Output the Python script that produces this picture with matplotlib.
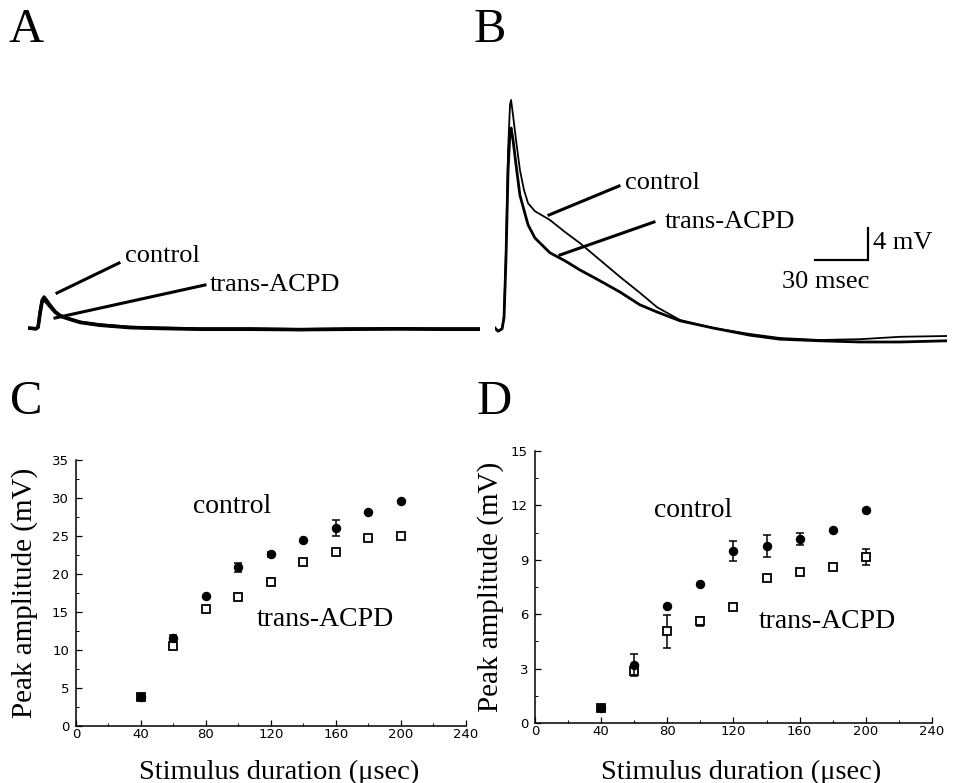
import numpy as np
import matplotlib
matplotlib.use("Agg")
import matplotlib.pyplot as plt
from matplotlib.lines import Line2D
from matplotlib.ticker import MultipleLocator

# ---------------- data ----------------
# Panel A traces (time in ms, voltage in mV relative to baseline)
a_time = [0, 4.5, 5.7, 6.8, 7.9, 9.1, 10.2, 12.5, 15.3, 18.1, 22.1, 29.4, 40.7, 57.7,
          74.7, 97.3, 125.6, 153.9, 182.2, 210.5, 233.2, 255.8]
a_control = [0, -0.1, 0.1, 2.0, 3.5, 3.9, 3.6, 2.9, 2.1, 1.6, 1.25, 0.75, 0.4, 0.1,
             0, -0.1, -0.1, -0.2, -0.1, -0.1, -0.1, -0.1]
a_trans = [0, -0.1, 0.1, 1.8, 3.2, 3.5, 3.3, 2.7, 2.0, 1.5, 1.2, 0.7, 0.35, 0.05,
           -0.05, -0.15, -0.15, -0.2, -0.15, -0.1, -0.15, -0.15]

# Panel B traces
b_time = [0, 1.7, 4.0, 5.1, 6.2, 7.4, 8.5, 9.1, 10.2, 11.9, 14.1, 16.4, 18.7, 22.6,
          31.1, 39.6, 48.1, 59.4, 70.7, 82.0, 91.7, 104.7, 123.4, 144.3, 161.3,
          183.9, 206.6, 229.2, 255.8]
b_control = [0, -0.4, -0.1, 1.6, 9.75, 22.25, 27.9, 28.5, 26.6, 23.5, 19.75, 17.25,
             15.6, 14.6, 13.5, 12.0, 10.6, 8.5, 6.4, 4.4, 2.6, 1.0, 0, -0.75, -1.25,
             -1.5, -1.4, -1.1, -1.0]
b_trans = [0, -0.4, -0.1, 1.25, 8.5, 19.75, 24.5, 25.0, 23.5, 20.4, 16.6, 14.75,
           12.9, 11.25, 9.4, 8.4, 7.25, 5.9, 4.5, 2.9, 2.0, 0.9, 0, -0.9, -1.4,
           -1.6, -1.75, -1.75, -1.6]

# Panels C and D: peak amplitude vs stimulus duration
duration = [40, 60, 80, 100, 120, 140, 160, 180, 200]

c_control = [3.8, 11.6, 17.1, 20.9, 22.6, 24.5, 26.1, 28.1, 29.6]
c_control_err = [0.3, 0.4, 0, 0.6, 0.3, 0, 1.05, 0, 0]
c_trans = [3.8, 10.5, 15.4, 17.0, 19.0, 21.6, 22.9, 24.8, 25.0]
c_trans_err = [0, 0, 0, 0, 0.5, 0, 0, 0, 0]

d_control = [0.8, 3.2, 6.45, 7.65, 9.5, 9.75, 10.15, 10.65, 11.75]
d_control_err = [0, 0.6, 0, 0, 0.55, 0.6, 0.35, 0, 0]
d_trans = [0.8, 2.85, 5.05, 5.6, 6.4, 8.0, 8.3, 8.6, 9.15]
d_trans_err = [0, 0, 0.9, 0.25, 0.12, 0, 0, 0, 0.42]

x_ticks = [0, 40, 80, 120, 160, 200, 240]
c_yticks = [0, 5, 10, 15, 20, 25, 30, 35]
d_yticks = [0, 3, 6, 9, 12, 15]

# ---------------- figure ----------------
W, H = 954, 783
fig = plt.figure(figsize=(W / 100, H / 100), dpi=100)
SERIF = ["Liberation Serif", "DejaVu Serif"]
TICKFONT = "DejaVu Sans"


def fx(x):
    return x / W


def fy(y):
    return 1 - y / H


def rect(l, t, r, b):
    return [fx(l), fy(b), fx(r) - fx(l), fy(t) - fy(b)]


# ---- trace panels ----
axA = fig.add_axes(rect(28, 80, 480, 360))
axB = fig.add_axes(rect(495, 80, 947, 360))
for ax in (axA, axB):
    ax.set_xlim(0, 255.8)
    ax.set_ylim(-4, 31)
    ax.axis("off")

axA.plot(a_time, a_trans, color="black", lw=2.6, solid_joinstyle="round")
axA.plot(a_time, a_control, color="black", lw=2.2, solid_joinstyle="round")
axB.plot(b_time, b_trans, color="black", lw=2.0, solid_joinstyle="round")
axB.plot(b_time, b_control, color="black", lw=1.3, solid_joinstyle="round")

# scale bar in panel B (30 ms, 4 mV)
sb_t, sb_v = 211, 8.5
axB.plot([sb_t - 30, sb_t, sb_t], [sb_v, sb_v, sb_v + 4], color="black", lw=1.6,
         solid_joinstyle="miter")
fig.text(fx(873), fy(243), "4 mV", family=SERIF, fontsize=19, va="center", ha="left")
fig.text(fx(782), fy(282), "30 msec", family=SERIF, fontsize=19, va="center", ha="left")


def pointer(x0, y0, x1, y1, lw=2.2):
    fig.add_artist(Line2D([fx(x0), fx(x1)], [fy(y0), fy(y1)], color="black", lw=lw,
                          transform=fig.transFigure))


# annotations A
pointer(57, 293, 119, 263)
fig.text(fx(125), fy(256), "control", family=SERIF, fontsize=19, va="center", ha="left")
pointer(55, 318, 205, 285)
fig.text(fx(210), fy(285), "trans-ACPD", family=SERIF, fontsize=19, va="center", ha="left")
# annotations B
pointer(549, 215, 619, 186)
fig.text(fx(625), fy(183), "control", family=SERIF, fontsize=19, va="center", ha="left")
pointer(560, 255, 654, 222)
fig.text(fx(665), fy(222), "trans-ACPD", family=SERIF, fontsize=19, va="center", ha="left")

# panel letters
for lbl, x, y in [("A", 9, 30), ("B", 474, 30), ("C", 10, 402), ("D", 477, 402)]:
    fig.text(fx(x), fy(y), lbl, family=SERIF, fontsize=35, va="center", ha="left")

# ---- scatter panels ----
axC = fig.add_axes(rect(76, 460, 466, 726))
axD = fig.add_axes(rect(535, 451, 932, 723))


def scatter_panel(ax, ctrl, ctrl_err, trans, trans_err, yticks, ymax, yminor,
                  ctext, ttext, ylab_x, xlab_y):
    x = np.array(duration, dtype=float)
    ctrl = np.array(ctrl, dtype=float)
    trans = np.array(trans, dtype=float)
    ce = np.array(ctrl_err, dtype=float)
    te = np.array(trans_err, dtype=float)
    m = te > 0
    ax.errorbar(x[m], trans[m], yerr=te[m], fmt="none", ecolor="black",
                elinewidth=1.1, capsize=2.6, capthick=1.1, zorder=2)
    ax.plot(x, trans, "s", ms=5.2, mfc="white", mec="black", mew=1.3, zorder=3)
    m = ce > 0
    ax.errorbar(x[m], ctrl[m], yerr=ce[m], fmt="none", ecolor="black",
                elinewidth=1.1, capsize=2.6, capthick=1.1, zorder=4)
    ax.plot(x, ctrl, "o", ms=5.8, mfc="black", mec="black", zorder=5)

    ax.set_xlim(0, 240)
    ax.set_ylim(0, ymax)
    ax.set_xticks(x_ticks)
    ax.set_yticks(yticks)
    ax.xaxis.set_minor_locator(MultipleLocator(20))
    ax.yaxis.set_minor_locator(MultipleLocator(yminor))
    ax.spines["top"].set_visible(False)
    ax.spines["right"].set_visible(False)
    for s in ("left", "bottom"):
        ax.spines[s].set_linewidth(1.1)
        ax.spines[s].set_clip_on(False)
    ax.tick_params(which="major", direction="in", length=4, width=0.9,
                   labelsize=9.5, colors="black")
    ax.tick_params(which="minor", direction="in", length=2, width=0.7)
    ax.tick_params(axis="x", pad=1.5)
    ax.tick_params(axis="y", pad=5)
    for t in ax.get_xticklabels() + ax.get_yticklabels():
        t.set_family(TICKFONT)
    ax.set_ylabel("Peak amplitude (mV)", family=SERIF, fontsize=21)
    ax.yaxis.set_label_coords(ylab_x, 0.5)
    ax.set_xlabel("Stimulus duration (\u03bcsec)", family=SERIF, fontsize=20.5)
    ax.xaxis.set_label_coords(0.52, xlab_y)
    ax.xaxis.label.set_va("center")
    ax.yaxis.label.set_va("center")
    ax.text(ctext[0], ctext[1], "control", family=SERIF, fontsize=20,
            va="center", ha="left", transform=ax.transData)
    ax.text(ttext[0], ttext[1], "trans-ACPD", family=SERIF, fontsize=20,
            va="center", ha="left", transform=ax.transData)


scatter_panel(axC, c_control, c_control_err, c_trans, c_trans_err, c_yticks, 35, 2.5,
              (72, 28.9), (111, 14.0), -0.133, -(772 - 726) / 266)
scatter_panel(axD, d_control, d_control_err, d_trans, d_trans_err, d_yticks, 15, 1.5,
              (72, 11.7), (135, 5.6), -0.111, -(772 - 723) / 272)

fig.savefig("out.png", dpi=100)
